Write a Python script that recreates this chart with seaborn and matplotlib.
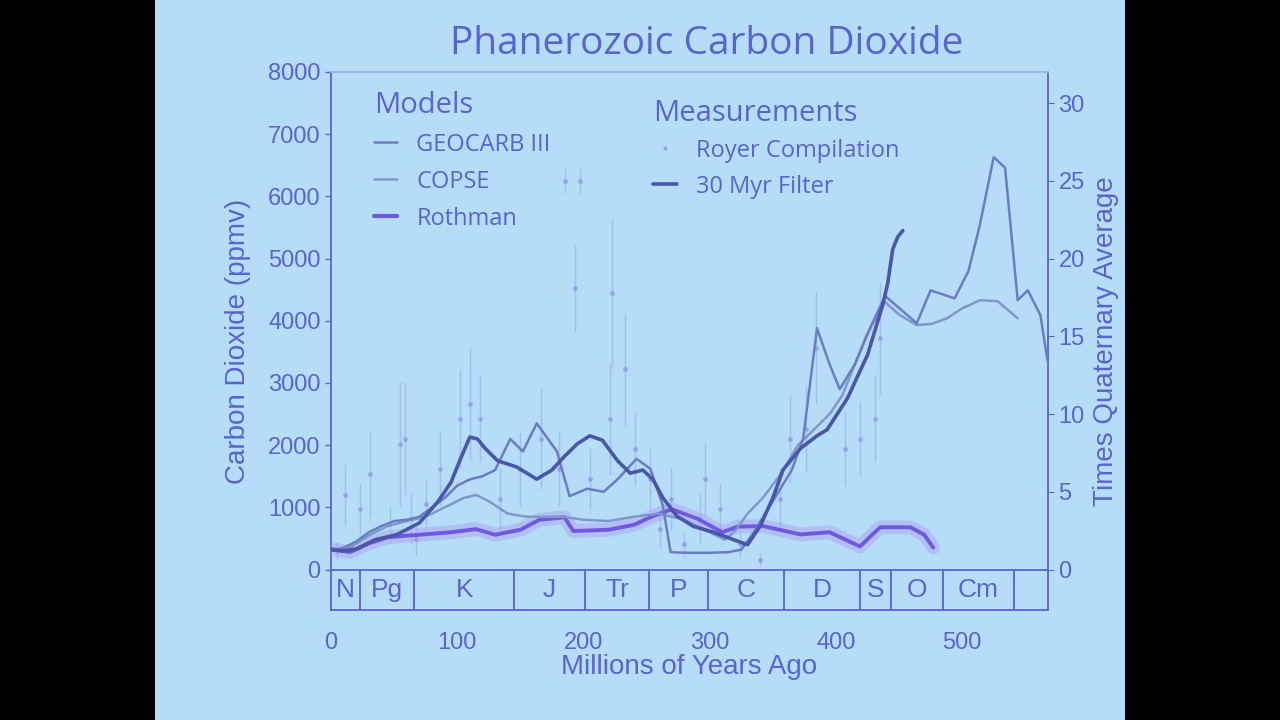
import numpy as np
import pandas as pd
import matplotlib
matplotlib.use('Agg')
import matplotlib.pyplot as plt
from matplotlib.patches import Rectangle
from matplotlib.lines import Line2D
import seaborn as sns

# ---- data (Myr ago, ppmv) ----
geocarb_myr = [0, 10, 20, 30, 40, 50, 60, 70, 80, 90, 100, 110, 120, 130, 142, 152, 163, 179, 189,
               203, 216, 227, 242, 253, 263, 269, 280, 300, 315, 325, 335, 350, 365, 374, 385,
               395, 403, 415, 427, 439, 464, 475, 494, 505, 514, 525, 534, 544, 552, 562, 567, 572]
geocarb_ppm = [300, 350, 450, 600, 700, 780, 800, 850, 1000, 1150, 1350, 1450, 1500, 1600, 2100, 1900,
               2350, 1900, 1180, 1300, 1250, 1450, 1780, 1620, 1020, 280, 270, 270, 280, 320, 600,
               1100, 1600, 2100, 3880, 3300, 2900, 3300, 3880, 4400, 3960, 4490, 4360, 4800, 5540,
               6630, 6460, 4330, 4490, 4090, 3440, 2900]

copse_myr = [0, 15, 30, 45, 60, 75, 90, 105, 115, 125, 140, 155, 170, 184, 200, 220, 240, 260, 280,
             300, 312, 320, 330, 342, 355, 370, 385, 395, 405, 415, 425, 439, 450, 464, 476, 488, 500,
             514, 528, 544]
copse_ppm = [300, 350, 550, 700, 780, 850, 1000, 1150, 1200, 1100, 900, 850, 850, 850, 800, 780, 850,
             900, 800, 600, 480, 620, 900, 1150, 1500, 2000, 2300, 2500, 2800, 3300, 3800, 4300,
             4100, 3930, 3950, 4040, 4200, 4330, 4315, 4040]

rothman_myr = [0, 15, 30, 45, 70, 95, 115, 130, 150, 165, 185, 192, 220, 240, 255, 270, 290, 310,
               322, 342, 372, 395, 419, 435, 459, 470, 477]
rothman_ppm = [330, 280, 420, 520, 560, 600, 650, 560, 640, 800, 840, 620, 640, 720, 860, 970, 820,
               600, 690, 700, 565, 600, 372, 680, 680, 560, 355]

filter_myr = [0, 10, 20, 35, 52, 70, 85, 95, 103, 110, 116, 122, 132, 147, 163, 175, 184, 195, 205,
              215, 227, 237, 247, 255, 263, 274, 287, 303, 319, 330, 340, 350, 358, 372, 385, 393,
              409, 425, 437, 441, 445, 449, 453]
filter_ppm = [320, 300, 330, 480, 560, 750, 1100, 1400, 1800, 2130, 2100, 1950, 1750, 1650, 1454, 1600,
              1800, 2020, 2150, 2080, 1750, 1550, 1600, 1450, 1150, 860, 695, 600, 480, 400, 700, 1150,
              1600, 1950, 2150, 2250, 2750, 3450, 4250, 4600, 5150, 5350, 5450]

royer_myr = [5, 11, 23, 31, 47, 55, 59, 63, 67, 75, 86, 102, 110, 118, 134, 150, 166, 181, 185, 193,
             197, 205, 221, 223, 233, 241, 253, 261, 269, 280, 292, 296, 308, 324, 340, 356, 364,
             376, 384, 407, 419, 431, 435]
royer_ppm = [300, 1200, 970, 1535, 727, 2020, 2100, 808, 485, 1050, 1616, 2424, 2666, 2424, 1131, 1616,
             2100, 1616, 6250, 4525, 6250, 1454, 2424, 4444, 3232, 1939, 1454, 646, 1131, 404, 808,
             1454, 970, 404, 161, 1131, 2100, 2262, 3555, 1939, 2100, 2424, 3717]
royer_err = [150, 500, 400, 700, 300, 1000, 900, 400, 250, 400, 600, 800, 900, 700, 500, 600, 800,
             600, 200, 700, 200, 500, 900, 1200, 900, 600, 500, 300, 500, 200, 400, 600, 400, 200,
             100, 500, 700, 700, 900, 600, 600, 700, 900]

period_names = ['N', 'Pg', 'K', 'J', 'Tr', 'P', 'C', 'D', 'S', 'O', 'Cm', '']
period_edges = [0, 23, 66, 145, 201, 252, 299, 359, 419, 444, 485, 541, 568]

bg = '#b5ddf7'
ink = '#5a63d4'
c_geocarb = '#6a7cc4'
c_copse = '#7f98cc'
c_roth = '#7058e0'
c_filter = '#4a56aa'

sns.set_style('white')
plt.rcParams['font.family'] = ['Liberation Sans', 'DejaVu Sans']

fig = plt.figure(figsize=(12.8, 7.2), dpi=100, facecolor='black')
fig.patches.append(Rectangle((155 / 1280, 0), 970 / 1280, 1, transform=fig.transFigure,
                             facecolor=bg, edgecolor='none', zorder=-5))
ax = fig.add_axes([331 / 1280, 110 / 720, 717 / 1280, 538 / 720])
ax.set_facecolor(bg)

# error bars of the compilation
ax.errorbar(royer_myr, royer_ppm, yerr=royer_err, fmt='o', ms=2.5, color='#8796e4',
            ecolor='#97a8ea', elinewidth=1, alpha=0.6, zorder=2)

# Rothman glow + line
sns.lineplot(x=rothman_myr, y=rothman_ppm, ax=ax, color='#a98cf2', lw=10, alpha=0.35, zorder=3)
sns.lineplot(x=rothman_myr, y=rothman_ppm, ax=ax, color=c_roth, lw=2.8, zorder=4)
sns.lineplot(x=copse_myr, y=copse_ppm, ax=ax, color=c_copse, lw=1.8, zorder=5)
sns.lineplot(x=geocarb_myr, y=geocarb_ppm, ax=ax, color=c_geocarb, lw=1.8, zorder=5)
sns.lineplot(x=filter_myr, y=filter_ppm, ax=ax, color=c_filter, lw=2.6, zorder=6)

# geologic period strip below zero
ax.axhline(0, color=ink, lw=1.3, zorder=7)
for e in period_edges[1:-1]:
    ax.vlines(e, -650, 0, color=ink, lw=1.3, zorder=7)
for i, name in enumerate(period_names):
    mid = (period_edges[i] + period_edges[i + 1]) / 2
    ax.text(mid, -330, name, ha='center', va='center', fontsize=19, color=ink, zorder=8)

ax.set_xlim(0, 568)
ax.set_ylim(-650, 8000)
ax.set_xticks([0, 100, 200, 300, 400, 500])
ax.set_yticks(range(0, 8001, 1000))
ax.tick_params(colors=ink, labelsize=17, direction='out', length=4, width=1)
ax.tick_params(axis='x', pad=12)
for s in ax.spines.values():
    s.set_color(ink)
    s.set_linewidth(1.3)
ax.spines['top'].set_color('#9fb4ea')
ax.set_xlabel('Millions of Years Ago', fontsize=20, color=ink, labelpad=0)
ax.set_ylabel('Carbon Dioxide (ppmv)', fontsize=20, color=ink, labelpad=12)
fig.text(707 / 1280, 1 - 44 / 720, 'Phanerozoic Carbon Dioxide', ha='center', va='center',
         fontsize=28, color=ink, family='Open Sans')

ax2 = ax.twinx()
ax2.set_ylim(-650 / 250, 8000 / 250)
ax2.set_yticks(range(0, 31, 5))
ax2.tick_params(colors=ink, labelsize=17, direction='out', length=4)
for s in ax2.spines.values():
    s.set_visible(False)
ax2.set_ylabel('Times Quaternary Average', fontsize=20, color=ink, labelpad=6)
ax2.grid(False)

# legends
h_models = [Line2D([], [], color=c_geocarb, lw=1.8),
            Line2D([], [], color=c_copse, lw=1.8),
            Line2D([], [], color=c_roth, lw=3)]
leg1 = ax.legend(h_models, ['GEOCARB III', 'COPSE', 'Rothman'], title='Models', loc='upper left',
                 bbox_to_anchor=(0.03, 1.005), frameon=False, title_fontsize=21,
                 handlelength=1.0, labelspacing=0.55, labelcolor=ink, alignment='left',
                 prop={'family': 'Open Sans', 'size': 17})
leg1.get_title().set_color(ink)
leg1.get_title().set_family('Open Sans')
ax.add_artist(leg1)
h_meas = [Line2D([], [], color='#93a3e8', marker='.', ls='none', ms=4),
          Line2D([], [], color=c_filter, lw=2.6)]
leg2 = ax.legend(h_meas, ['Royer Compilation', '30 Myr Filter'], title='Measurements', loc='upper left',
                 bbox_to_anchor=(0.42, 0.99), frameon=False, title_fontsize=21,
                 handlelength=1.0, labelspacing=0.5, labelcolor=ink, alignment='left',
                 prop={'family': 'Open Sans', 'size': 17})
leg2.get_title().set_color(ink)
leg2.get_title().set_family('Open Sans')
leg2._legend_box.sep = 8

fig.savefig('out.png', dpi=100, facecolor=fig.get_facecolor())
